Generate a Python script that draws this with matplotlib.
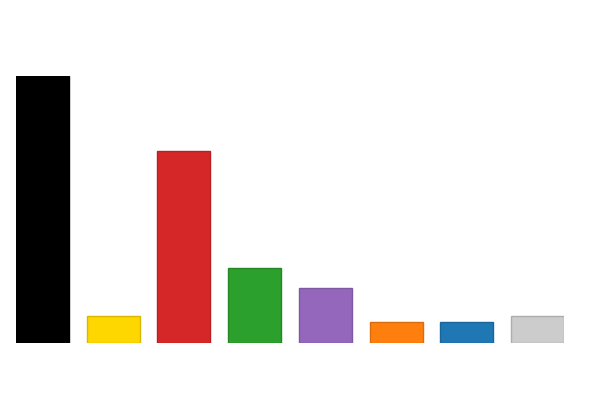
import matplotlib
matplotlib.use('Agg')
import matplotlib.pyplot as plt
import matplotlib.colors as mcolors
import numpy as np

# bar values (top bar ~39)
values = [39, 4, 28, 11, 8, 3, 3, 4]
colors = ['#000000', '#FFD700', '#D62728', '#2CA02C',
          '#9467BD', '#FF7F0E', '#1F77B4', '#CCCCCC']


def darker(c, f=0.85):
    r, g, b = mcolors.to_rgb(c)
    return (r * f, g * f, b * f)


fig = plt.figure(figsize=(6, 4), dpi=100)
# axes placed so the bars fill x 16..564 px and y 76..343 px
ax = fig.add_axes([16 / 600, (400 - 343) / 400, 548 / 600, 267 / 400])

x = np.arange(len(values))
ax.bar(x, values, width=0.75, color=colors,
       edgecolor=[darker(c) for c in colors], linewidth=1)
ax.set_xlim(-0.375, len(values) - 1 + 0.375)
ax.set_ylim(0, max(values))
ax.axis('off')

fig.savefig('out.png', dpi=100)
